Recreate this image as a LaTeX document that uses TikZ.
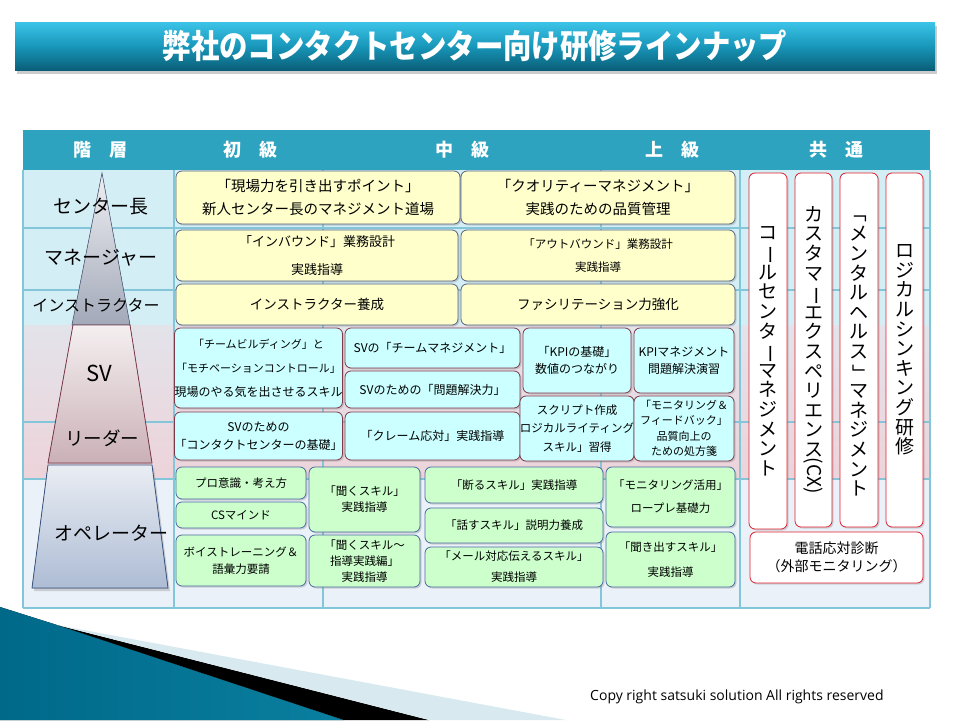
\documentclass[tikz,border=0pt]{standalone}
\usepackage{fontspec}
\setmainfont{Noto Sans CJK JP}
\newfontfamily\titlefont[FakeStretch=0.86]{Noto Sans CJK JP}
\newfontfamily\copyfont{Open Sans}
\usetikzlibrary{shadows}

\definecolor{barlight}{HTML}{3CC4E8}
\definecolor{barmid}{HTML}{1897BA}
\definecolor{bardark}{HTML}{0A5F78}
\definecolor{headblue}{HTML}{2EA3BF}
\definecolor{rowblue}{HTML}{D3EEF5}
\definecolor{rowpinktop}{HTML}{E3E3EA}
\definecolor{rowpink}{HTML}{EDD3DA}
\definecolor{rowpale}{HTML}{EBF1F9}
\definecolor{gridblue}{HTML}{84C6D9}
\definecolor{ylwfill}{HTML}{FFFFCC}
\definecolor{ylwline}{HTML}{56627F}
\definecolor{cyanfill}{HTML}{CCFFFF}
\definecolor{cyanline}{HTML}{7B3A4A}
\definecolor{grnfill}{HTML}{CCFFCC}
\definecolor{grnline}{HTML}{4A6AA0}
\definecolor{redline}{HTML}{E0202E}
\definecolor{tealdark}{HTML}{00698A}
\definecolor{teallight}{HTML}{50B8DA}
\definecolor{tealend}{HTML}{0A7F9F}
\definecolor{wedgeblue}{HTML}{D8EAF0}

\newcommand\setfs[2]{\fontsize{#1}{#2}\selectfont}
% upright pieces for the stacked vertical texts
\newcommand\vbar{\rotatebox[origin=c]{-90}{ー}}
\newcommand\vopen{\rotatebox[origin=c]{-90}{「}}
\newcommand\vclose{\rotatebox[origin=c]{-90}{」}}

\begin{document}
\begin{tikzpicture}[x=1pt,y=-1pt,
  box/.style={rounded corners=6pt, inner sep=0pt, align=center, line width=0.8pt,
    drop shadow={shadow xshift=1.5pt, shadow yshift=-1.5pt, opacity=0.3}},
  ybox/.style={box, fill=ylwfill, draw=ylwline},
  cbox/.style={box, fill=cyanfill, draw=cyanline},
  gbox/.style={box, fill=grnfill, draw=grnline},
  rbox/.style={box, fill=white, draw=redline},
  vbox/.style={rbox, font=\setfs{19}{19.6}},
  level/.style={font=\setfs{19}{22}},
  head/.style={text=white, font=\setfs{18}{20}\bfseries},
  gridline/.style={draw=gridblue, line width=1.2pt}]
\useasboundingbox (0,0) rectangle (960,720);

% title bar
\node[top color=barlight, bottom color=bardark, middle color=barmid, text=white,
  minimum width=920pt, minimum height=48pt, inner sep=0pt,
  drop shadow={shadow xshift=2pt, shadow yshift=-4pt, opacity=0.4}]
  (title) at (475,46) {\titlefont\bfseries\setfs{33}{36}弊社のコンタクトセンター向け研修ラインナップ};

% table background
\fill[headblue] (23,130) rectangle (930,170);
\fill[rowblue] (23,170) rectangle (930,325);
\fill[top color=rowpinktop, bottom color=rowpink] (23,325) rectangle (930,479);
\fill[rowpale] (23,479) rectangle (930,608);
\foreach \x in {23,174,323,601,740,930}
  \draw[gridline] (\x,170) -- (\x,608);
\foreach \y in {228,290,422,479,608}
  \draw[gridline] (23,\y) -- (930,\y);

\path (100,150) node[head] (hlevel) {階　層}
      (250,150) node[head] (hbasic) {初　級}
      (462,150) node[head] (hmiddle) {中　級}
      (672,150) node[head] (hupper) {上　級}
      (836,150) node[head] (hcommon) {共　通};

% pyramid
\filldraw[draw=ylwline, line width=0.6pt, top color=white!90!ylwline, bottom color=white!45!ylwline]
  (102,173) -- (130,325) -- (72,325) -- cycle;
\filldraw[draw=cyanline, line width=0.8pt, top color=white!92!cyanline, bottom color=white!60!cyanline]
  (73,325) -- (130,325) -- (152,463) -- (48,463) -- cycle;
\filldraw[draw=grnline!80!black, line width=0.8pt, top color=white!88!grnline, bottom color=white!55!grnline,
  drop shadow={shadow xshift=2pt, shadow yshift=-3pt, opacity=0.3}]
  (48,465) -- (152,465) -- (168,588) -- (32,588) -- cycle;

\path (101,207) node[level] (chief) {センター長}
      (101,258) node[level] (manager) {マネージャー}
      (96,305) node[level, font=\setfs{16}{18}] (instructor) {インストラクター}
      (99,373) node[level, font=\setfs{22}{24}] (sv) {SV}
      (102,438) node[level, font=\setfs{18.5}{20}] (leader) {リーダー}
      (111,533) node[level] (operator) {オペレーター};

% yellow rows
\node[ybox, minimum width=284pt, minimum height=53pt, font=\setfs{14.5}{22.5}] (chiefa) at (318,197.5)
  {「現場力を引き出すポイント」\\新人センター長のマネジメント道場};
\node[ybox, minimum width=274pt, minimum height=53pt, font=\setfs{14.5}{22.5}] (chiefb) at (598,197.5)
  {「クオリティーマネジメント」\\実践のための品質管理};
\node[ybox, minimum width=282pt, minimum height=51pt, font=\setfs{13}{28}] (managera) at (317,255.5)
  {「インバウンド」業務設計\\実践指導};
\node[ybox, minimum width=274pt, minimum height=51pt, font=\setfs{11.5}{23}] (managerb) at (598,255.5)
  {「アウトバウンド」業務設計\\実践指導};
\node[ybox, minimum width=282pt, minimum height=41pt, font=\setfs{13.5}{16}] (instra) at (317,304.5)
  {インストラクター養成};
\node[ybox, minimum width=274pt, minimum height=41pt, font=\setfs{13.5}{16}] (instrb) at (598,304.5)
  {ファシリテーション力強化};

% cyan rows
\node[cbox, minimum width=167pt, minimum height=80pt, font=\setfs{11}{24}] (sva) at (258.5,368)
  {「チームビルディング」と\\「モチベーションコントロール」\\{\setfs{12}{24}現場のやる気を出させるスキル}};
\node[cbox, minimum width=167pt, minimum height=48pt, font=\setfs{12}{18}] (svb) at (258.5,436)
  {SVのための\\「コンタクトセンターの基礎」};
\node[cbox, minimum width=175pt, minimum height=40pt, font=\setfs{12}{14}] (svc) at (432.5,348)
  {SVの「チームマネジメント」};
\node[cbox, minimum width=175pt, minimum height=37pt, font=\setfs{12}{14}] (svd) at (432.5,389.5)
  {SVのための「問題解決力」};
\node[cbox, minimum width=175pt, minimum height=48pt, font=\setfs{12}{14}] (sve) at (432.5,436)
  {「クレーム応対」実践指導};
\node[cbox, minimum width=108pt, minimum height=65pt, font=\setfs{12}{17}] (svf) at (577,360.5)
  {「KPIの基礎」\\数値のつながり};
\node[cbox, minimum width=100pt, minimum height=65pt, font=\setfs{12}{17}] (svg) at (684,360.5)
  {KPIマネジメント\\問題解決演習};
\node[cbox, minimum width=108pt, minimum height=65pt, font=\setfs{11.5}{18.5}] (svh) at (577,428.5)
  {スクリプト作成\\ロジカルライティング\\スキル」習得};
\node[cbox, minimum width=100pt, minimum height=65pt, font=\setfs{11}{15.5}] (svi) at (684,428.5)
  {「モニタリング＆\\フィードバック」\\品質向上の\\ための処方箋};

% green rows
\node[gbox, minimum width=130pt, minimum height=32pt, font=\setfs{11.5}{14}] (opa) at (241,483)
  {プロ意識・考え方};
\node[gbox, minimum width=130pt, minimum height=26pt, font=\setfs{11.5}{14}] (opb) at (241,515)
  {CSマインド};
\node[gbox, minimum width=130pt, minimum height=51pt, font=\setfs{11.5}{17}] (opc) at (241,560.5)
  {ボイストレーニング＆\\語彙力要請};
\node[gbox, minimum width=111pt, minimum height=65pt, font=\setfs{11.5}{16}] (opd) at (364.5,499.5)
  {「聞くスキル」\\実践指導};
\node[gbox, minimum width=111pt, minimum height=52pt, font=\setfs{11.5}{16}] (ope) at (364.5,561)
  {「聞くスキル～\\指導実践編」\\実践指導};
\node[gbox, minimum width=178pt, minimum height=36pt, font=\setfs{11.5}{14}] (opf) at (514,485)
  {「断るスキル」実践指導};
\node[gbox, minimum width=178pt, minimum height=35pt, font=\setfs{11.5}{14}] (opg) at (514,525.5)
  {「話すスキル」説明力養成};
\node[gbox, minimum width=178pt, minimum height=40pt, font=\setfs{11.5}{21}] (oph) at (514,567)
  {「メール対応伝えるスキル」\\実践指導};
\node[gbox, minimum width=129pt, minimum height=60pt, font=\setfs{11.5}{23}] (opi) at (670.5,497)
  {「モニタリング活用」\\ロープレ基礎力};
\node[gbox, minimum width=129pt, minimum height=55pt, font=\setfs{11.5}{25}] (opj) at (670.5,559.5)
  {「聞き出すスキル」\\実践指導};

% common column, text stacked top to bottom
\node[vbox, minimum width=38pt, minimum height=356pt] (callmgmt) at (768,351)
  {コ\\\vbar\\ル\\セ\\ン\\タ\\\vbar\\マ\\ネ\\ジ\\メ\\ン\\ト};
\node[vbox, minimum width=37pt, minimum height=354pt] (custexp) at (813.5,350)
  {カ\\ス\\タ\\マ\\\vbar\\エ\\ク\\ス\\ペ\\リ\\エ\\ン\\ス\\\rotatebox[origin=c]{-90}{(CX)}};
\node[vbox, minimum width=38pt, minimum height=354pt] (mental) at (859,350)
  {\vopen\\メ\\ン\\タ\\ル\\ヘ\\ル\\ス\\\vclose\\マ\\ネ\\ジ\\メ\\ン\\ト};
\node[vbox, minimum width=37pt, minimum height=354pt] (logical) at (904.5,350)
  {ロ\\ジ\\カ\\ル\\シ\\ン\\キ\\ン\\グ\\研\\修};
\node[rbox, minimum width=173pt, minimum height=51pt, font=\setfs{14}{18}] (phone) at (836.5,557.5)
  {電話応対診断\\（外部モニタリング）};

% corner wedge
\fill[left color=tealdark, middle color=teallight, right color=tealend]
  (0,607) -- (57,625) -- (344,720) -- (0,720) -- cycle;
\fill[black] (57,625) -- (429,720) -- (344,720) -- cycle;
\fill[wedgeblue] (57,625) -- (566,720) -- (429,720) -- cycle;

\node[anchor=west, inner sep=0pt, font=\copyfont\setfs{14}{15}] (copyright) at (590,697)
  {Copy right satsuki solution All rights reserved};
\end{tikzpicture}
\end{document}
